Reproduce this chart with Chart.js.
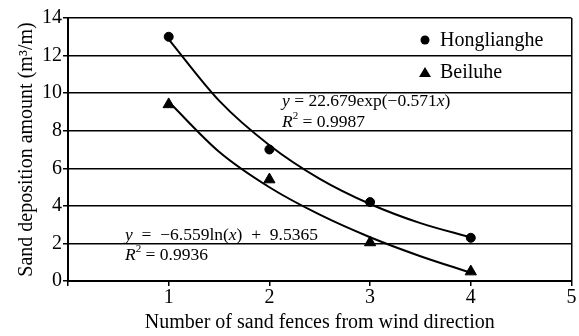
<!DOCTYPE html>
<html>
<head>
<meta charset="utf-8">
<script src="https://cdn.jsdelivr.net/npm/chart.js@4.4.1/dist/chart.umd.min.js"></script>
<style>
  html, body { margin: 0; padding: 0; background: #fff; }
  #wrap { width: 579px; height: 336px; }
</style>
</head>
<body>
<div id="wrap"><canvas id="sandChart"></canvas></div>
<script>
  // measured points
  const fenceNo = [1, 2, 3, 4];
  const hongliangheVals = [13.0, 7.0, 4.2, 2.3];
  const beiluheVals = [9.4, 5.4, 2.05, 0.5];

  // trend curves, every half step
  const curveX = [1, 1.5, 2, 2.5, 3, 3.5, 4];
  const hongCurve = [12.86, 9.6, 7.23, 5.44, 4.1, 3.08, 2.32];
  const beiCurve = [9.54, 6.88, 4.99, 3.53, 2.33, 1.32, 0.44];

  const xTicks = [1, 2, 3, 4, 5];
  const yTicks = [0, 2, 4, 6, 8, 10, 12, 14];

  const serif = "'Liberation Serif', 'Times New Roman', serif";

  const toXY = (xs, ys) => xs.map((x, i) => ({ x: x, y: ys[i] }));

  // legend + equations drawn by hand (the original has them floating in the plot)
  const notes = {
    id: "notes",
    afterDraw(chart) {
      const ctx = chart.ctx;
      ctx.save();
      ctx.fillStyle = "#000";
      ctx.textBaseline = "middle";
      ctx.font = "20px " + serif;
      // legend
      ctx.beginPath();
      ctx.arc(425, 40, 4.5, 0, Math.PI * 2);
      ctx.fill();
      ctx.fillText("Honglianghe", 440, 41);
      ctx.beginPath();
      ctx.moveTo(425, 67);
      ctx.lineTo(431, 77);
      ctx.lineTo(419, 77);
      ctx.closePath();
      ctx.fill();
      ctx.fillText("Beiluhe", 440, 73);

      ctx.textBaseline = "alphabetic";
      const runs = (x, y, parts) => {
        parts.forEach((p) => {
          const size = p.sup ? 11 : 17.5;
          ctx.font = (p.it ? "italic " : "") + size + "px " + serif;
          ctx.fillText(p.t, x, p.sup ? y - 8 : y);
          x += ctx.measureText(p.t).width;
        });
      };
      runs(282, 106, [{ t: "y", it: true }, { t: " = 22.679exp(\u22120.571" }, { t: "x", it: true }, { t: ")" }]);
      runs(282, 127, [{ t: "R", it: true }, { t: "2", sup: true }, { t: " = 0.9987" }]);
      runs(125, 240, [{ t: "y", it: true }, { t: "\u2002=\u2002\u22126.559ln(" }, { t: "x", it: true }, { t: ")\u2002+\u20029.5365" }]);
      runs(125, 260, [{ t: "R", it: true }, { t: "2", sup: true }, { t: " = 0.9936" }]);
      ctx.restore();
    },
  };

  new Chart(document.getElementById("sandChart"), {
    type: "scatter",
    data: {
      datasets: [
        {
          label: "Honglianghe",
          data: toXY(fenceNo, hongliangheVals),
          pointStyle: "circle",
          pointRadius: 4.5,
          backgroundColor: "#000",
          borderColor: "#000",
        },
        {
          label: "Beiluhe",
          data: toXY(fenceNo, beiluheVals),
          pointStyle: "triangle",
          pointRadius: 6.5,
          backgroundColor: "#000",
          borderColor: "#000",
        },
        {
          type: "line",
          label: "exp fit",
          data: toXY(curveX, hongCurve),
          borderColor: "#000",
          borderWidth: 2,
          pointRadius: 0,
          cubicInterpolationMode: "monotone",
          fill: false,
        },
        {
          type: "line",
          label: "log fit",
          data: toXY(curveX, beiCurve),
          borderColor: "#000",
          borderWidth: 2,
          pointRadius: 0,
          cubicInterpolationMode: "monotone",
          fill: false,
        },
      ],
    },
    options: {
      responsive: true,
      maintainAspectRatio: false,
      animation: false,
      layout: { padding: { top: 18, right: 4, left: 0, bottom: 0 } },
      plugins: { legend: { display: false }, tooltip: { enabled: false } },
      scales: {
        x: {
          type: "linear",
          min: 0,
          max: 5,
          afterBuildTicks: (s) => { s.ticks = [0].concat(xTicks).map((v) => ({ value: v })); },
          afterFit: (s) => { s.height = 55; },
          ticks: {
            color: "#000",
            font: { family: serif, size: 20 },
            padding: 0,
            callback: (v) => (v === 0 ? "" : v),
          },
          grid: {
            color: (c) => (c.tick && c.tick.value === 5 ? "#000" : "rgba(0,0,0,0)"),
            tickColor: "#000",
            tickLength: 5,
            lineWidth: 1.5,
          },
          border: { color: "#000", width: 2 },
          title: {
            display: true,
            text: "Number of sand fences from wind direction",
            color: "#000",
            font: { family: serif, size: 20 },
            padding: { top: 0, bottom: 1 },
          },
        },
        y: {
          min: 0,
          max: 14,
          afterBuildTicks: (s) => { s.ticks = yTicks.map((v) => ({ value: v })); },
          afterFit: (s) => { s.width = 68; },
          ticks: { color: "#000", font: { family: serif, size: 20 }, padding: 1 },
          grid: { color: "#000", tickColor: "#000", tickLength: 5, lineWidth: 1.5 },
          border: { color: "#000", width: 2 },
          title: {
            display: true,
            text: "Sand deposition amount (m\u00b3/m)",
            color: "#000",
            font: { family: serif, size: 20 },
            padding: { top: 15, bottom: 0 },
          },
        },
      },
    },
    plugins: [notes],
  });
</script>
</body>
</html>
